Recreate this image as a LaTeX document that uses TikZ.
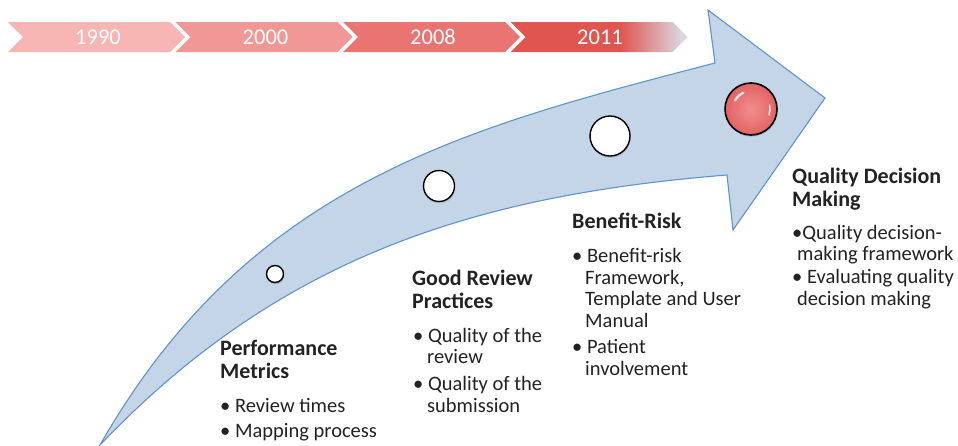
\documentclass[tikz,border=0pt]{standalone}
\usepackage{fontspec}
\setmainfont{Carlito}
\usetikzlibrary{shadows}
\definecolor{cha}{HTML}{F7B6B4}
\definecolor{chb}{HTML}{F19896}
\definecolor{chc}{HTML}{E97472}
\definecolor{tlred}{HTML}{E0554F}
\definecolor{tlgrey}{HTML}{DAD5DE}
\definecolor{arrowfill}{HTML}{C5D5E8}
\definecolor{arrowline}{HTML}{5E93CC}
\definecolor{txt}{HTML}{222222}
\definecolor{ballin}{HTML}{F28E8E}
\definecolor{ballout}{HTML}{E26264}
\pgfdeclarehorizontalshading{tlfade}{100bp}{color(0bp)=(tlred); color(25bp)=(tlred); color(56bp)=(tlred); color(73bp)=(tlgrey); color(100bp)=(tlgrey)}
\begin{document}
\begin{tikzpicture}[x=1pt,y=-1pt,
  hd/.style={anchor=base west, inner sep=0pt, font=\fontsize{22}{24}\selectfont\bfseries, text=txt},
  bl/.style={anchor=base west, inner sep=0pt, font=\fontsize{20.5}{22}\selectfont, text=txt},
  yr/.style={inner sep=0pt, font=\fontsize{22.5}{24}\selectfont, text=white},
  dot/.style={circle, draw=black, line width=1.4pt, fill=white, inner sep=0pt,
    drop shadow={opacity=0.3, shadow xshift=0.6pt, shadow yshift=-1.8pt}}]
\useasboundingbox (0,0) rectangle (958,445);
% timeline chevrons
\fill[cha] (8,22) -- ++(162,0) -- ++(15,15) -- ++(-15,15) -- ++(-162,0) -- ++(15,-15) -- cycle;
\fill[chb] (175.5,22) -- ++(162,0) -- ++(15,15) -- ++(-15,15) -- ++(-162,0) -- ++(15,-15) -- cycle;
\fill[chc] (343,22) -- ++(162,0) -- ++(15,15) -- ++(-15,15) -- ++(-162,0) -- ++(15,-15) -- cycle;
\shade[shading=tlfade] (510.5,22) -- ++(162,0) -- ++(15,15) -- ++(-15,15) -- ++(-162,0) -- ++(15,-15) -- cycle;
\node[yr] (y1) at (98,37) {1990};
\node[yr] (y2) at (265.5,37) {2000};
\node[yr] (y3) at (433,37) {2008};
\node[yr] (y4) at (600,37) {2011};
% big curved arrow
\path[draw=arrowline, line width=1.1pt, fill=arrowfill, line join=miter]
  (100,445) .. controls (250,182.5) and (465,128) .. (715,63)
  -- (708,10) -- (825,98) -- (733,230) -- (727,175)
  .. controls (477,195) and (280,256) .. (100,445) -- cycle;
% milestones
\node[dot, minimum size=17pt] (c1) at (275,274) {};
\node[dot, minimum size=31pt] (c2) at (439,186) {};
\node[dot, minimum size=40pt] (c3) at (610,136) {};
\node[circle, draw=black, line width=1.6pt, inner sep=0pt, minimum size=52pt,
  inner color=ballin, outer color=ballout,
  drop shadow={opacity=0.3, shadow xshift=0.6pt, shadow yshift=-1.8pt}] (c4) at (751,109) {};
\draw[white, line width=2.2pt, line cap=round, opacity=0.85]
  ([shift={(152:18pt)}]c4.center) arc[start angle=152, end angle=115, radius=18pt];
\draw[white, line width=1.6pt, line cap=round, opacity=0.8]
  ([shift={(12:19pt)}]c4.center) arc[start angle=12, end angle=-18, radius=19pt];
% Performance Metrics
\node[hd] (pm1) at (220,355) {Performance};
\node[hd] (pm2) at (220,378) {Metrics};
\node[bl] (pm3) at (220,412) {• Review times};
\node[bl] (pm4) at (220,437) {• Mapping process};
% Good Review Practices
\node[hd] (gr1) at (412,285) {Good Review};
\node[hd] (gr2) at (412,308) {Practices};
\node[bl] (gr3) at (413,342) {• Quality of the};
\node[bl] (gr4) at (427,363) {review};
\node[bl] (gr5) at (413,390) {• Quality of the};
\node[bl] (gr6) at (427,412) {submission};
% Benefit-Risk
\node[hd] (br1) at (572,228) {Benefit-Risk};
\node[bl] (br2) at (572,262) {• Benefit-risk};
\node[bl] (br3) at (585,284) {Framework,};
\node[bl] (br4) at (585,305) {Template and User};
\node[bl] (br5) at (585,327) {Manual};
\node[bl] (br6) at (572,353) {• Patient};
\node[bl] (br7) at (585,375) {involvement};
% Quality Decision Making
\node[hd] (qd1) at (792,183) {Quality Decision};
\node[hd] (qd2) at (792,206) {Making};
\node[bl] (qd3) at (792,239) {•Quality decision-};
\node[bl] (qd4) at (797,260) {making framework};
\node[bl] (qd5) at (792,283) {• Evaluating quality};
\node[bl] (qd6) at (797,305) {decision making};
\end{tikzpicture}
\end{document}
